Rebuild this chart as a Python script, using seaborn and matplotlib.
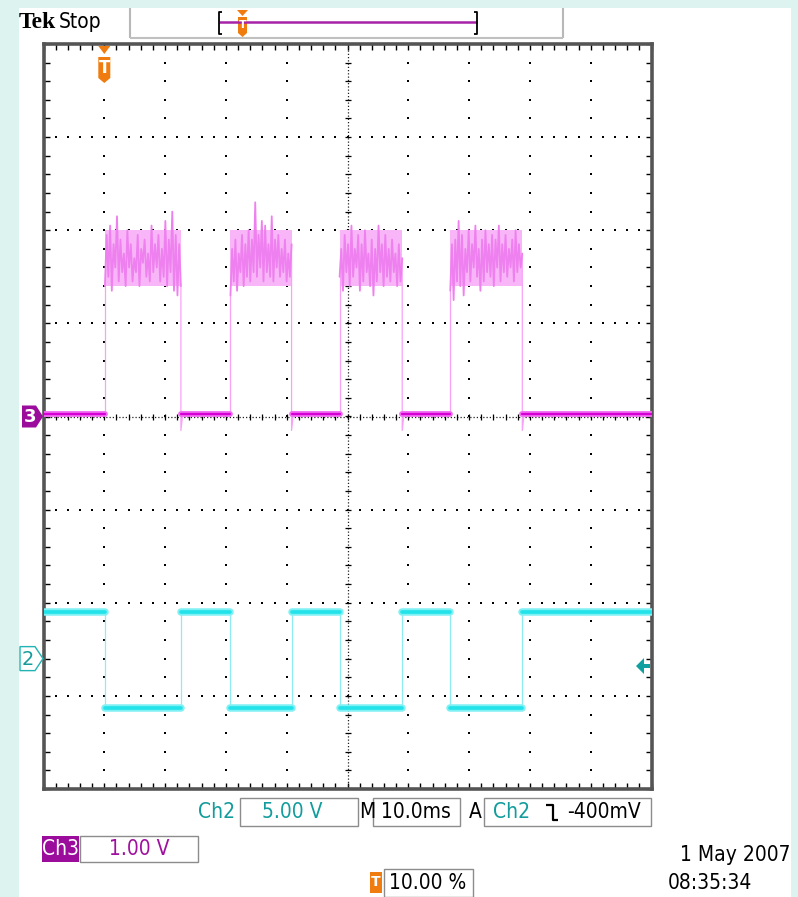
import numpy as np
import pandas as pd
import matplotlib
matplotlib.use("Agg")
import matplotlib.pyplot as plt
import matplotlib.patches as mpatches
import seaborn as sns

# ---------------- data ----------------
# switching edge times in ms (trigger at t = 0, 10 ms/div, 10 % pretrigger)
edges_ms = [0.1, 12.6, 20.75, 30.8, 38.7, 49.0, 56.9, 68.75]
time_range_ms = [-10.0, 90.0]

# channel 3 (1.00 V/div, position 0 div)
ch3_vdiv = 1.00
ch3_pos = 0.0
ch3_low = 0.03
ch3_undershoot = -0.15
ch3_pulse1 = [1.40, 1.95, 1.50, 2.05, 1.35, 1.85, 1.60, 2.15, 1.45, 1.90, 1.55, 1.75,
              1.40, 2.00, 1.60, 1.85, 1.45, 1.70, 1.55, 1.95, 1.40, 1.80, 1.65, 1.90,
              1.50, 1.75, 1.45, 2.05, 1.55, 1.85, 1.60, 1.95, 1.45, 1.80, 1.50, 2.10,
              1.40, 1.90, 1.55, 2.20, 1.35, 1.95, 1.30, 1.85, 1.40]
ch3_pulse2 = [1.30, 1.80, 1.45, 1.90, 1.35, 1.75, 1.55, 1.95, 1.40, 1.85, 1.50, 2.00,
              1.45, 1.90, 1.55, 2.30, 1.50, 1.95, 1.60, 2.10, 1.45, 2.05, 1.55, 1.85,
              1.50, 2.15, 1.45, 1.90, 1.60, 1.95, 1.50, 1.80, 1.55, 1.90, 1.45, 1.75,
              1.50, 1.85]
ch3_pulse3 = [1.50, 1.80, 1.35, 1.95, 1.55, 1.85, 1.40, 2.05, 1.50, 1.80, 1.60, 1.95,
              1.35, 1.85, 1.45, 2.00, 1.55, 1.75, 1.40, 1.90, 1.30, 1.80, 1.45, 2.05,
              1.55, 1.85, 1.40, 1.95, 1.50, 1.80, 1.45, 1.90, 1.55, 1.75, 1.40, 1.85,
              1.45, 1.70]
ch3_pulse4 = [1.35, 1.85, 1.25, 1.90, 1.45, 2.10, 1.40, 1.95, 1.30, 1.80, 1.55, 2.00,
              1.45, 1.85, 1.60, 2.05, 1.50, 1.80, 1.35, 1.90, 1.45, 2.00, 1.55, 1.85,
              1.50, 1.95, 1.40, 1.90, 1.60, 2.05, 1.45, 1.85, 1.55, 1.95, 1.50, 1.80,
              1.60, 1.90, 1.45, 2.00, 1.55, 1.85, 1.60, 1.75]
ch3_pulses = [ch3_pulse1, ch3_pulse2, ch3_pulse3, ch3_pulse4]
ch3_noise_core = [1.40, 2.00]

# channel 2 (5.00 V/div, position -2.6 div)
ch2_vdiv = 5.00
ch2_pos = -2.6
ch2_high = 2.5
ch2_low = -2.65
ch2_trigger_v = -0.4

# readout texts
hdr_brand = "Tek"
hdr_state = "Stop"
ch2_label, ch2_scale = "Ch2", "5.00 V"
ch3_label, ch3_scale = "Ch3", "1.00 V"
time_scale = "10.0ms"
trig_src, trig_level = "Ch2", "-400mV"
trig_pos = "10.00 %"
date_txt, time_txt = "1 May 2007", "08:35:34"

# ---------------- build trace tables ----------------
t0, t1 = time_range_ms
bounds = [t0] + edges_ms + [t1]

rows_flat, rows_edge, rows_top = [], [], []
for k in range(len(bounds) - 1):
    a, b = bounds[k], bounds[k + 1]
    ch3_is_high = (k % 2 == 1)
    if not ch3_is_high:
        for tt in (a, b):
            rows_flat.append(dict(ch="ch3", seg=k, t=tt, y=ch3_low / ch3_vdiv + ch3_pos))
    v2 = ch2_low if ch3_is_high else ch2_high
    for tt in (a, b):
        rows_flat.append(dict(ch="ch2", seg=k, t=tt, y=v2 / ch2_vdiv + ch2_pos))

for i, p in enumerate(ch3_pulses):
    ra, fa = edges_ms[2 * i], edges_ms[2 * i + 1]
    ts = np.linspace(ra, fa, len(p))
    for tt, vv in zip(ts, p):
        rows_top.append(dict(seg=i, t=tt, y=vv / ch3_vdiv + ch3_pos))
    rows_edge.append(dict(ch="ch3", seg=2 * i, t=ra, y=ch3_low))
    rows_edge.append(dict(ch="ch3", seg=2 * i, t=ra, y=p[0]))
    rows_edge.append(dict(ch="ch3", seg=2 * i + 1, t=fa, y=p[-1]))
    rows_edge.append(dict(ch="ch3", seg=2 * i + 1, t=fa, y=ch3_undershoot))
    rows_edge.append(dict(ch="ch3", seg=2 * i + 1, t=fa + 0.3, y=ch3_low))

for j, e in enumerate(edges_ms):
    hi = ch2_high / ch2_vdiv + ch2_pos
    lo = ch2_low / ch2_vdiv + ch2_pos
    rows_edge.append(dict(ch="ch2", seg=100 + j, t=e, y=hi))
    rows_edge.append(dict(ch="ch2", seg=100 + j, t=e, y=lo))

flat = pd.DataFrame(rows_flat)
edge = pd.DataFrame(rows_edge)
top = pd.DataFrame(rows_top)

# ---------------- figure ----------------
sns.set_theme(style="white")
plt.rcParams["font.family"] = ["DejaVu Sans"]
W, H = 798, 897
fig = plt.figure(figsize=(W / 100, H / 100), dpi=100, facecolor="#dcf3ef")

def P(x, y):
    return (x / W, 1 - y / H)

def frect(x0, y0, x1, y1, fc="white", ec="none", lw=1.0, z=3):
    r = mpatches.Rectangle(P(x0, y1), (x1 - x0) / W, (y1 - y0) / H,
                           transform=fig.transFigure, facecolor=fc, edgecolor=ec,
                           linewidth=lw, zorder=z)
    fig.patches.append(r)

def fpoly(pts, fc, ec="none", lw=1.0, z=6):
    poly = mpatches.Polygon([P(x, y) for x, y in pts], closed=True,
                            transform=fig.transFigure, facecolor=fc, edgecolor=ec,
                            linewidth=lw, zorder=z)
    fig.patches.append(poly)

def fline(xs, ys, color, lw, z=7):
    fig.lines.append(plt.Line2D([x / W for x in xs], [1 - y / H for y in ys],
                                transform=fig.transFigure, color=color, lw=lw,
                                zorder=z, solid_capstyle="butt"))

def ftext(x, y, s, **kw):
    kw.setdefault("zorder", 8)
    fig.text(x / W, 1 - y / H, s, **kw)

frect(19, 8, 791, 897, fc="white", z=-10)

L, R, T, B = 43.5, 651.5, 44.0, 789.0
ax = fig.add_axes([L / W, 1 - B / H, (R - L) / W, (B - T) / H])
ax.set_zorder(1)
ax.set_facecolor("white")
ax.set_xlim(t0, t1)
ax.set_ylim(-4, 4)

# graticule
xs_major = np.arange(t0 + 10, t1, 10)
ys_major = np.arange(-3, 4, 1)
cx = (t0 + t1) / 2
dot_y = np.arange(-4, 4.001, 0.2)
dot_x = np.arange(t0, t1 + 0.001, 2)
for xv in xs_major:
    if abs(xv - cx) < 1e-6:
        continue
    ax.scatter(np.full_like(dot_y, xv), dot_y, s=2.2, marker="s", color="black",
               linewidths=0, zorder=2)
for yv in ys_major:
    if yv == 0:
        continue
    ax.scatter(dot_x, np.full_like(dot_x, yv), s=2.2, marker="s", color="black",
               linewidths=0, zorder=2)
ax.axhline(0, color="#222222", lw=0.9, ls=(0, (1, 1.6)), zorder=2)
ax.axvline(cx, color="#222222", lw=0.9, ls=(0, (1, 1.6)), zorder=2)
ax.scatter(dot_x, np.zeros_like(dot_x), marker="|", s=22, color="black",
           linewidths=0.9, zorder=2)
ax.scatter(np.full_like(dot_y, cx), dot_y, marker="_", s=22, color="black",
           linewidths=0.9, zorder=2)

ax.set_xticks(np.arange(t0, t1 + 0.1, 10))
ax.set_yticks(np.arange(-4, 4.1, 1))
ax.set_xticks(dot_x, minor=True)
ax.set_yticks(dot_y, minor=True)
ax.tick_params(which="both", direction="in", length=4, width=1, color="black",
               top=True, right=True, bottom=True, left=True,
               labelbottom=False, labelleft=False)
for sp in ax.spines.values():
    sp.set_color("#555555")
    sp.set_linewidth(2.6)

# ---- traces ----
f3 = flat[flat.ch == "ch3"]
f2 = flat[flat.ch == "ch2"]
e3 = edge[edge.ch == "ch3"]
e2 = edge[edge.ch == "ch2"]

for i, p in enumerate(ch3_pulses):
    ra, fa = edges_ms[2 * i], edges_ms[2 * i + 1]
    ax.fill_between([ra, fa], ch3_noise_core[0], ch3_noise_core[1],
                    color="#f8b6f8", lw=0, zorder=3)
sns.lineplot(data=top, x="t", y="y", units="seg", estimator=None, sort=False,
             color="#ef80ef", lw=1.3, ax=ax, zorder=4)
sns.lineplot(data=e3, x="t", y="y", units="seg", estimator=None, sort=False,
             color="#f7a2f7", lw=0.9, ax=ax, zorder=3)
sns.lineplot(data=f3, x="t", y="y", units="seg", estimator=None, sort=False,
             color="#f26af2", lw=4.2, ax=ax, zorder=4)
sns.lineplot(data=f3, x="t", y="y", units="seg", estimator=None, sort=False,
             color="#d400d4", lw=1.6, ax=ax, zorder=5)

sns.lineplot(data=e2, x="t", y="y", units="seg", estimator=None, sort=False,
             color="#8cecf2", lw=0.9, ax=ax, zorder=3)
sns.lineplot(data=f2, x="t", y="y", units="seg", estimator=None, sort=False,
             color="#7ff0f4", lw=5.4, ax=ax, zorder=4)
sns.lineplot(data=f2, x="t", y="y", units="seg", estimator=None, sort=False,
             color="#22e2ea", lw=2.6, ax=ax, zorder=5)
ax.set_xlabel("")
ax.set_ylabel("")
if ax.get_legend() is not None:
    ax.get_legend().remove()

# ---- markers ----
teal = "#139c9c"
purple = "#9c0c9c"
orange = "#f07c10"

tx = L + (0 - t0) / (t1 - t0) * (R - L)
fpoly([(tx - 6, 46), (tx + 6, 46), (tx, 54)], orange)
fpoly([(tx - 6, 57), (tx + 6, 57), (tx + 6, 78), (tx, 83), (tx - 6, 78)], orange)
ftext(tx, 68, "T", color="white", fontsize=12, fontweight="bold", ha="center",
      va="center")

y3 = B - (ch3_pos + 4) / 8 * (B - T)
fpoly([(22, y3 - 11), (36, y3 - 11), (43, y3), (36, y3 + 11), (22, y3 + 11)], purple)
ftext(30, y3 + 1, "3", color="white", fontsize=13, fontweight="bold", ha="center",
      va="center")

y2 = B - (ch2_pos + 4) / 8 * (B - T)
fpoly([(20, y2 - 12), (35, y2 - 12), (43, y2), (35, y2 + 12), (20, y2 + 12)], "white",
      ec="#22b4b4", lw=1.0)
ftext(28, y2 + 1, "2", color=teal, fontsize=14, ha="center", va="center")

ya = B - (ch2_trigger_v / ch2_vdiv + ch2_pos + 4) / 8 * (B - T)
fpoly([(636, ya), (644, ya - 8), (644, ya + 8)], "#10a0a0")
fpoly([(643, ya - 2), (650, ya - 2), (650, ya + 2), (643, ya + 2)], "#10a0a0")

# ---- header ----
ftext(19, 23, hdr_brand, fontsize=17, fontweight="bold", family="Liberation Serif",
      ha="left", va="center", color="black")
ftext(59, 22, hdr_state, fontsize=15, fontstretch="condensed", ha="left", va="center",
      color="black")
fline([130, 130], [8, 38], "#b8b8b8", 1.5)
fline([563, 563], [8, 38], "#b8b8b8", 1.5)
fline([130, 563], [38, 38], "#c0c0c0", 1.5)
fline([219, 477], [22, 22], "#a622a6", 1.8)
for bx, sgn in ((219, 1), (477, -1)):
    fline([bx + 3 * sgn, bx, bx, bx + 3 * sgn], [12, 12, 34, 34], "black", 1.3)
fpoly([(237, 10), (248, 10), (242.5, 16)], orange)
fpoly([(238, 17), (247, 17), (247, 33), (242.5, 37), (238, 33)], orange)
ftext(242.5, 25, "T", color="white", fontsize=8, fontweight="bold", ha="center",
      va="center")

# ---- bottom readouts ----
fs = 15
bx_ec = "#8c8c8c"
ftext(217, 812, ch2_label, color=teal, fontsize=fs, fontstretch="condensed",
      ha="center", va="center")
frect(240, 798, 358, 826, ec=bx_ec)
ftext(292, 812, ch2_scale, color=teal, fontsize=fs, fontstretch="condensed",
      ha="center", va="center")
ftext(367, 812, "M", color="black", fontsize=fs, fontstretch="condensed",
      ha="center", va="center")
frect(373, 798, 460, 826, ec=bx_ec)
ftext(416, 812, time_scale, color="black", fontsize=fs, fontstretch="condensed",
      ha="center", va="center")
ftext(475, 812, "A", color="black", fontsize=fs, fontstretch="condensed",
      ha="center", va="center")
frect(484, 798, 651, 826, ec=bx_ec)
ftext(512, 812, trig_src, color=teal, fontsize=fs, fontstretch="condensed",
      ha="center", va="center")
fline([546, 553, 553, 558], [805, 805, 820, 820], "black", 1.6)
ftext(604, 812, trig_level, color="black", fontsize=fs, fontstretch="condensed",
      ha="center", va="center")

frect(42, 836, 79, 862, fc=purple)
ftext(60.5, 849, ch3_label, color="white", fontsize=fs, fontstretch="condensed",
      ha="center", va="center")
frect(80, 836, 198, 862, ec=bx_ec)
ftext(139, 849, ch3_scale, color="#a010a0", fontsize=fs, fontstretch="condensed",
      ha="center", va="center")

frect(370, 872, 382, 893, fc=orange)
ftext(376, 882, "T", color="white", fontsize=10, fontweight="bold", ha="center",
      va="center")
frect(384, 869, 473, 897, ec=bx_ec)
ftext(428, 883, trig_pos, color="black", fontsize=fs, fontstretch="condensed",
      ha="center", va="center")

ftext(790, 855, date_txt, color="black", fontsize=fs, fontstretch="condensed",
      ha="right", va="center")
ftext(668, 883, time_txt, color="black", fontsize=fs, fontstretch="condensed",
      ha="left", va="center")

fig.savefig("out.png", dpi=100, facecolor=fig.get_facecolor())
